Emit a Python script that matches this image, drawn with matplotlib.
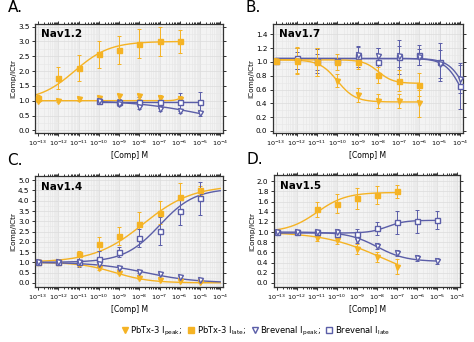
import numpy as np
import matplotlib.pyplot as plt
from matplotlib.lines import Line2D
from matplotlib.ticker import (MultipleLocator, FormatStrFormatter, FixedLocator,
                               NullFormatter)

ORANGE = "#f5b324"
BLUE = "#5b5ea8"

# log10 concentrations
x_a = [-13, -12, -11, -10, -9, -8, -7, -6]
x_a_bv = [-10, -9, -8, -7, -6, -5]
x_b = [-13, -12, -11, -10, -9, -8, -7, -6]
x_b_bv = [-13, -12, -11, -10, -9, -8, -7, -6, -5, -4]
x_c = [-13, -12, -11, -10, -9, -8, -7, -6, -5]
x_d = [-11, -10, -9, -8, -7]
x_d_bv = [-13, -12, -11, -10, -9, -8, -7, -6, -5]

# Nav1.2
a_pb_late = [1.10, 1.77, 2.10, 2.57, 2.72, 2.93, 3.00, 3.00]
a_pb_late_err = [0.10, 0.38, 0.45, 0.45, 0.48, 0.50, 0.50, 0.40]
a_pb_peak = [1.00, 1.00, 1.05, 1.10, 1.15, 1.15, 1.08, 1.05]
a_pb_peak_err = [0.04, 0.04, 0.05, 0.06, 0.08, 0.08, 0.12, 0.10]
a_bv_late = [1.00, 0.97, 0.97, 0.96, 0.96, 0.97]
a_bv_late_err = [0.05, 0.10, 0.15, 0.20, 0.30, 0.33]
a_bv_peak = [1.00, 0.90, 0.80, 0.73, 0.65, 0.57]
a_bv_peak_err = [0.05, 0.07, 0.07, 0.08, 0.08, 0.10]

# Nav1.7
b_pb_late = [1.02, 1.02, 1.00, 1.00, 1.00, 0.81, 0.73, 0.67]
b_pb_late_err = [0.03, 0.18, 0.20, 0.12, 0.10, 0.12, 0.15, 0.17]
b_pb_peak = [1.02, 1.02, 1.00, 0.73, 0.52, 0.43, 0.43, 0.40]
b_pb_peak_err = [0.03, 0.20, 0.20, 0.10, 0.10, 0.10, 0.10, 0.20]
b_bv_late = [1.02, 1.05, 1.01, 1.01, 1.08, 1.00, 1.07, 1.10, 1.00, 0.65]
b_bv_late_err = [0.02, 0.15, 0.17, 0.05, 0.15, 0.20, 0.25, 0.15, 0.27, 0.33]
b_bv_peak = [1.02, 1.02, 1.00, 1.00, 1.10, 1.08, 1.08, 1.07, 0.97, 0.75]
b_bv_peak_err = [0.02, 0.12, 0.12, 0.05, 0.12, 0.12, 0.15, 0.12, 0.20, 0.20]

# Nav1.4
c_pb_late = [1.00, 1.00, 1.42, 1.90, 2.27, 2.85, 3.42, 4.20, 4.50]
c_pb_late_err = [0.03, 0.03, 0.15, 0.35, 0.45, 0.60, 0.55, 0.65, 0.20]
c_pb_peak = [1.00, 1.00, 0.90, 0.70, 0.50, 0.25, 0.12, 0.08, 0.02]
c_pb_peak_err = [0.03, 0.03, 0.06, 0.08, 0.08, 0.06, 0.05, 0.05, 0.04]
c_bv_late = [1.00, 1.00, 1.00, 1.15, 1.52, 2.18, 2.52, 3.52, 4.12]
c_bv_late_err = [0.03, 0.03, 0.25, 0.40, 0.25, 0.45, 0.70, 0.70, 0.80]
c_bv_peak = [1.00, 1.00, 1.00, 0.92, 0.72, 0.55, 0.42, 0.30, 0.12]
c_bv_peak_err = [0.03, 0.03, 0.05, 0.06, 0.06, 0.06, 0.06, 0.05, 0.04]

# Nav1.5
d_pb_late = [1.45, 1.56, 1.66, 1.73, 1.80]
d_pb_late_err = [0.15, 0.18, 0.20, 0.18, 0.13]
d_pb_peak = [0.88, 0.85, 0.67, 0.51, 0.32]
d_pb_peak_err = [0.06, 0.08, 0.10, 0.10, 0.15]
d_bv_late = [1.00, 1.00, 1.00, 0.97, 0.96, 1.07, 1.19, 1.21, 1.24]
d_bv_late_err = [0.02, 0.02, 0.03, 0.05, 0.10, 0.12, 0.22, 0.22, 0.18]
d_bv_peak = [1.00, 1.00, 1.00, 1.00, 0.85, 0.72, 0.58, 0.49, 0.43]
d_bv_peak_err = [0.02, 0.02, 0.03, 0.05, 0.06, 0.06, 0.06, 0.05, 0.05]

decades = np.arange(-13, -3)


def hill(x, bottom, top, mid, slope):
    # sigmoidal dose-response on log10 concentration
    return bottom + (top - bottom) / (1 + 10 ** ((mid - x) * slope))


def series(ax, x, y, err, color, marker, filled, fit=None, fit_range=None):
    conc = 10.0 ** np.array(x, dtype=float)
    if fit is not None:
        xs = np.linspace(fit_range[0], fit_range[1], 200)
        ax.plot(10 ** xs, hill(xs, *fit), color=color, lw=1.0, zorder=2)
    ax.errorbar(conc, y, yerr=err, fmt="none", ecolor=color, elinewidth=0.7,
                capsize=1.3, capthick=0.7, zorder=3)
    ax.plot(conc, y, linestyle="none", marker=marker, markersize=3.6,
            markeredgewidth=1.0, color=color,
            markerfacecolor=color if filled else "white", zorder=4)


def exp_label(v, pos):
    return r"$10^{%d}$" % round(np.log10(v))


def style(ax, name, ylim, ystep, label):
    ax.set_xscale("log")
    ax.set_xlim(10 ** -13.15, 10 ** -3.85)
    ax.set_ylim(*ylim)
    ax.set_facecolor("#f3f3f3")
    minor = [m * 10.0 ** d for d in decades[:-1] for m in range(2, 10)]
    ax.xaxis.set_major_locator(FixedLocator(10.0 ** decades))
    ax.xaxis.set_minor_locator(FixedLocator(minor))
    ax.xaxis.set_major_formatter(plt.FuncFormatter(exp_label))
    ax.xaxis.set_minor_formatter(NullFormatter())
    ax.yaxis.set_major_locator(MultipleLocator(ystep))
    ax.yaxis.set_minor_locator(MultipleLocator(ystep / 2))
    ax.yaxis.set_major_formatter(FormatStrFormatter("%.1f"))
    ax.grid(True, which="major", color="#dcdcdc", lw=0.5)
    ax.grid(True, which="minor", color="#e6e6e6", lw=0.4)
    ax.set_axisbelow(True)
    ax.tick_params(which="both", top=True, right=True, direction="out",
                   length=2.5, width=0.7, color="#333333", pad=1.5)
    ax.tick_params(axis="x", which="major", labelsize=4.6)
    ax.tick_params(axis="y", which="major", labelsize=5.2)
    ax.tick_params(which="minor", length=1.5)
    ax.tick_params(axis="y", which="minor", length=0)
    for s in ax.spines.values():
        s.set_color("#333333")
        s.set_linewidth(0.9)
    ax.set_xlabel("[Comp] M", fontsize=5.5, labelpad=2)
    ax.set_ylabel("IComp/ICtr", fontsize=5.3, labelpad=1)
    ax.text(0.03, 0.95, name, transform=ax.transAxes, fontsize=7.5,
            fontweight="bold", va="top", ha="left")
    ax.figure.text(ax.get_position().x0 - 0.058, ax.get_position().y1 + 0.025,
                   label, fontsize=11, va="bottom", ha="left")


fig = plt.figure(figsize=(4.74, 3.42), dpi=100)
ax_a = fig.add_axes([0.074, 0.611, 0.397, 0.319])
ax_b = fig.add_axes([0.576, 0.611, 0.401, 0.319])
ax_c = fig.add_axes([0.074, 0.161, 0.397, 0.324])
ax_d = fig.add_axes([0.578, 0.161, 0.393, 0.327])

# A. Nav1.2
series(ax_a, x_a, a_pb_late, a_pb_late_err, ORANGE, "s", True, (1.0, 3.0, -11.2, 0.5), (-13.15, -6))
series(ax_a, x_a, a_pb_peak, a_pb_peak_err, ORANGE, "v", True, (1.0, 1.15, -6.0, 3.0), (-13.15, -6))
series(ax_a, x_a_bv, a_bv_late, a_bv_late_err, BLUE, "s", False, (0.97, 0.97, -7, 1), (-10, -5))
series(ax_a, x_a_bv, a_bv_peak, a_bv_peak_err, BLUE, "v", False, (0.0, 1.02, -4.6, -0.24), (-10, -5))
style(ax_a, "Nav1.2", (-0.09, 3.59), 0.5, "A.")

# B. Nav1.7
series(ax_b, x_b_bv, b_bv_late, b_bv_late_err, BLUE, "s", False, (0.0, 1.05, -3.8, -1.0), (-13, -4))
series(ax_b, x_b_bv, b_bv_peak, b_bv_peak_err, BLUE, "v", False, (0.0, 1.05, -3.6, -1.0), (-13, -4))
series(ax_b, x_b, b_pb_late, b_pb_late_err, ORANGE, "s", True, (0.69, 1.03, -8.0, -1.2), (-13, -6))
series(ax_b, x_b, b_pb_peak, b_pb_peak_err, ORANGE, "v", True, (0.42, 1.03, -10.0, -1.0), (-13, -6))
style(ax_b, "Nav1.7", (-0.03, 1.55), 0.2, "B.")

# C. Nav1.4
series(ax_c, x_c, c_pb_late, c_pb_late_err, ORANGE, "s", True, (1.0, 4.75, -7.8, 0.36), (-13, -4))
series(ax_c, x_c, c_pb_peak, c_pb_peak_err, ORANGE, "v", True, (0.0, 1.0, -9.2, -0.5), (-13, -4))
series(ax_c, x_c, c_bv_late, c_bv_late_err, BLUE, "s", False, (1.0, 4.6, -7.0, 0.5), (-13, -4))
series(ax_c, x_c, c_bv_peak, c_bv_peak_err, BLUE, "v", False, (0.0, 1.0, -7.7, -0.35), (-13, -4))
style(ax_c, "Nav1.4", (-0.2, 5.2), 0.5, "C.")

# D. Nav1.5
series(ax_d, x_d, d_pb_late, d_pb_late_err, ORANGE, "s", True, (1.0, 1.78, -11.0, 0.6), (-13, -7))
series(ax_d, x_d, d_pb_peak, d_pb_peak_err, ORANGE, "v", True, (0.0, 1.0, -7.8, -0.3), (-13, -7))
series(ax_d, x_d_bv, d_bv_late, d_bv_late_err, BLUE, "s", False, (0.98, 1.23, -7.5, 1.0), (-13, -5))
series(ax_d, x_d_bv, d_bv_peak, d_bv_peak_err, BLUE, "v", False, (0.42, 1.0, -8.0, -0.6), (-13, -5))
style(ax_d, "Nav1.5", (-0.08, 2.12), 0.2, "D.")

handles = [
    Line2D([], [], ls="none", marker="v", color=ORANGE, markersize=4),
    Line2D([], [], ls="none", marker="s", color=ORANGE, markersize=4),
    Line2D([], [], ls="none", marker="v", color=BLUE, markerfacecolor="white", markersize=4),
    Line2D([], [], ls="none", marker="s", color=BLUE, markerfacecolor="white", markersize=4),
]
labels = [r"PbTx-3 I$_{\mathregular{peak}}$;", r"PbTx-3 I$_{\mathregular{late}}$;",
          r"Brevenal I$_{\mathregular{peak}}$;", r"Brevenal I$_{\mathregular{late}}$"]
fig.legend(handles, labels, loc="center", bbox_to_anchor=(0.54, 0.032), ncol=4,
           frameon=False, fontsize=6, handlelength=0.8, handletextpad=0.3,
           columnspacing=0.6)

fig.savefig("out.png", dpi=100)
